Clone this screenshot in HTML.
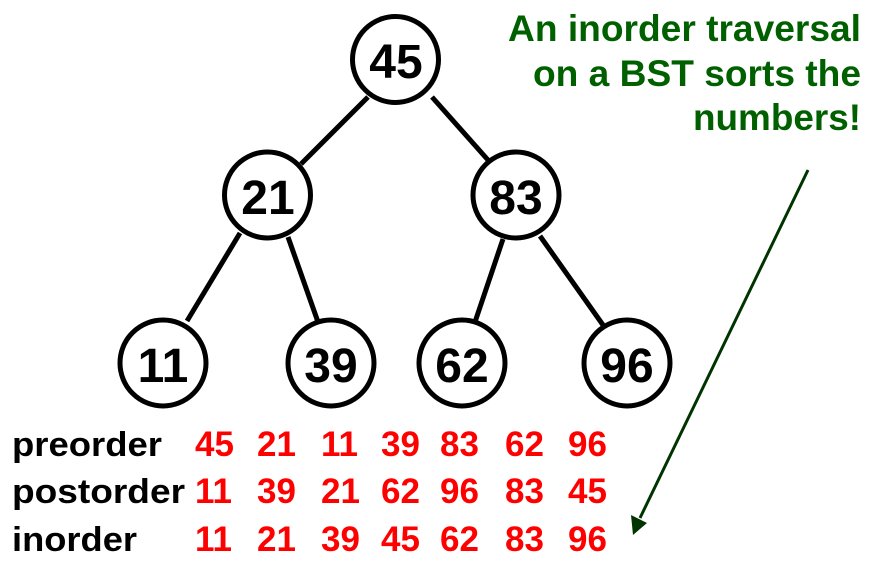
<!DOCTYPE html>
<html><head><meta charset="utf-8"><style>
html,body{margin:0;padding:0;background:#fff;}
svg{display:block;}
text{font-family:"Liberation Sans",Arial,sans-serif;font-weight:bold;}
</style></head><body>
<svg width="873" height="568" viewBox="0 0 873 568" xmlns="http://www.w3.org/2000/svg">
<g stroke="#000" stroke-width="5" fill="none">
<line x1="368" y1="97" x2="301" y2="164"/>
<line x1="432" y1="97" x2="488" y2="160"/>
<line x1="240" y1="233" x2="187" y2="321"/>
<line x1="288" y1="237" x2="318" y2="322"/>
<line x1="503" y1="239" x2="475" y2="322"/>
<line x1="540" y1="236" x2="603" y2="325"/>
<circle cx="395.5" cy="59.5" r="43"/>
<circle cx="267.5" cy="195" r="43"/>
<circle cx="516" cy="195" r="43"/>
<circle cx="163" cy="363" r="43"/>
<circle cx="331" cy="363" r="43"/>
<circle cx="462" cy="363" r="43"/>
<circle cx="627" cy="363" r="43"/>
</g>
<g font-size="48" text-anchor="middle" fill="#000">
<text x="396" y="78">45</text>
<text x="268" y="214">21</text>
<text x="516" y="214">83</text>
<text x="163" y="382">11</text>
<text x="331" y="382">39</text>
<text x="462" y="382">62</text>
<text x="627" y="382">96</text>
</g>
<g font-size="34" fill="#000">
<text x="12" y="456" textLength="150" lengthAdjust="spacingAndGlyphs">preorder</text>
<text x="12" y="503" textLength="173" lengthAdjust="spacingAndGlyphs">postorder</text>
<text x="12" y="551" textLength="125" lengthAdjust="spacingAndGlyphs">inorder</text>
</g>
<g font-size="35" fill="#ff0000">
<text y="456"><tspan x="195">45</tspan><tspan x="257">21</tspan><tspan x="321">11</tspan><tspan x="381">39</tspan><tspan x="440">83</tspan><tspan x="505">62</tspan><tspan x="568">96</tspan></text>
<text y="503"><tspan x="195">11</tspan><tspan x="257">39</tspan><tspan x="321">21</tspan><tspan x="381">62</tspan><tspan x="440">96</tspan><tspan x="505">83</tspan><tspan x="568">45</tspan></text>
<text y="551"><tspan x="195">11</tspan><tspan x="257">21</tspan><tspan x="321">39</tspan><tspan x="381">45</tspan><tspan x="440">62</tspan><tspan x="505">83</tspan><tspan x="568">96</tspan></text>
</g>
<g font-size="37" fill="#006000" text-anchor="end">
<text x="861" y="41" textLength="353" lengthAdjust="spacingAndGlyphs">An inorder traversal</text>
<text x="861" y="86" textLength="328" lengthAdjust="spacingAndGlyphs">on a BST sorts the</text>
<text x="861" y="130" textLength="168" lengthAdjust="spacingAndGlyphs">numbers!</text>
</g>
<line x1="808" y1="170" x2="640" y2="518" stroke="#003300" stroke-width="3"/>
<polygon points="633,535 631,515 647,523" fill="#003300"/>
</svg>
</body></html>
